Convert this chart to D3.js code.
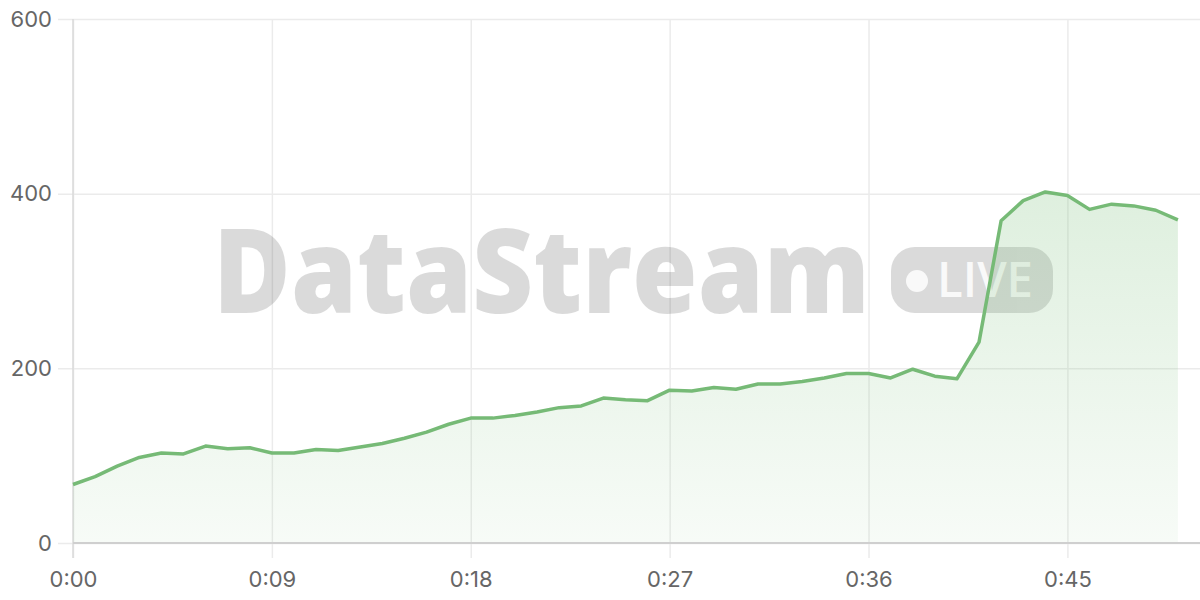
<!DOCTYPE html>
<html>
<head>
<meta charset="utf-8">
<script src="https://cdn.jsdelivr.net/npm/d3@7"></script>
<style>
  html, body { margin: 0; padding: 0; background: #fff; }
  svg { display: block; }
  .tick text { font-family: Inter, "Noto Sans", sans-serif; fill: #666; }
</style>
</head>
<body>
<script>
// minutes since start (one point per minute)
var minutes = d3.range(0, 51);
// viewers
var viewers = [
  67, 76, 88, 98, 103, 102, 111, 108, 109, 103,
  103, 107, 106, 110, 114, 120, 127, 136, 143, 143,
  146, 150, 155, 157, 166, 164, 163, 175, 174, 178,
  176, 182, 182, 185, 189, 194, 194, 189, 199, 191,
  188, 230, 369, 392, 402, 398, 382, 388, 386, 381,
  370
];
var xTicks = [0, 9, 18, 27, 36, 45];
var yTicks = [0, 200, 400, 600];

var width = 1200, height = 600;
var data = minutes.map(function(m, i) { return {m: m, v: viewers[i]}; });

var svg = d3.select("body").append("svg")
  .attr("width", width)
  .attr("height", height);

var x = d3.scaleLinear().domain([0, 51]).range([73, 1200]);
var y = d3.scaleLinear().domain([0, 600]).range([543, 19]);

// gradient for the area
var defs = svg.append("defs");
var grad = defs.append("linearGradient")
  .attr("id", "fillGrad")
  .attr("x1", 0).attr("y1", 0).attr("x2", 0).attr("y2", 1);
grad.append("stop").attr("offset", "0%").attr("stop-color", "#7cc07c").attr("stop-opacity", 0.25);
grad.append("stop").attr("offset", "100%").attr("stop-color", "#7cc07c").attr("stop-opacity", 0.06);

// horizontal grid + y labels
var yAxis = svg.append("g")
  .attr("transform", "translate(73,0)")
  .call(d3.axisLeft(y).tickValues(yTicks).tickSize(-(1200 - 73)).tickPadding(21));
yAxis.select(".domain").remove();
yAxis.selectAll(".tick line").attr("stroke", "#ebebeb").attr("stroke-width", 1.5)
  .attr("x1", 15 + (1200 - 73)).attr("x2", -15);
yAxis.selectAll(".tick text").attr("font-size", 22);

// vertical grid + x labels
var xAxis = svg.append("g")
  .attr("transform", "translate(0,543)")
  .call(d3.axisBottom(x).tickValues(xTicks).tickSize(-524)
    .tickFormat(function(d) { return "0:" + d3.format("02d")(d); }).tickPadding(28));
xAxis.select(".domain").remove();
xAxis.selectAll(".tick line").attr("stroke", "#ebebeb").attr("stroke-width", 1.5)
  .attr("y1", 15);
xAxis.selectAll(".tick text").attr("font-size", 22);

// left axis line a bit darker
svg.append("line")
  .attr("x1", x(0)).attr("x2", x(0))
  .attr("y1", y(600)).attr("y2", 558)
  .attr("stroke", "#dadada").attr("stroke-width", 1.5);

// watermark
var wm = svg.append("g").attr("opacity", 0.14);
wm.append("text")
  .attr("x", 213).attr("y", 313)
  .attr("font-family", "'Open Sans', Inter, sans-serif")
  .attr("font-weight", 800)
  .attr("font-size", 117)
  .attr("textLength", 657)
  .attr("lengthAdjust", "spacingAndGlyphs")
  .attr("fill", "#000")
  .text("DataStream");
wm.append("rect")
  .attr("x", 891).attr("y", 247).attr("width", 162).attr("height", 66)
  .attr("rx", 24).attr("fill", "#000");
var badge = svg.append("g").attr("opacity", 0.85);
badge.append("circle").attr("cx", 917).attr("cy", 281).attr("r", 11).attr("fill", "#fff");
badge.append("text")
  .attr("x", 937).attr("y", 297)
  .attr("font-family", "'Open Sans', Inter, sans-serif")
  .attr("font-weight", 600)
  .attr("font-size", 48)
  .attr("textLength", 96)
  .attr("lengthAdjust", "spacingAndGlyphs")
  .attr("fill", "#fff")
  .text("LIVE");

// area
var area = d3.area()
  .x(function(d) { return x(d.m); })
  .y0(y(0))
  .y1(function(d) { return y(d.v); });
svg.append("path")
  .datum(data)
  .attr("d", area)
  .attr("fill", "url(#fillGrad)");

// bottom axis line
svg.append("line")
  .attr("x1", x(0)).attr("x2", 1200)
  .attr("y1", y(0)).attr("y2", y(0))
  .attr("stroke", "#cfcfcf").attr("stroke-width", 2);

// line
var line = d3.line()
  .x(function(d) { return x(d.m); })
  .y(function(d) { return y(d.v); });
svg.append("path")
  .datum(data)
  .attr("d", line)
  .attr("fill", "none")
  .attr("stroke", "#76ba76")
  .attr("stroke-width", 3.5)
  .attr("stroke-linejoin", "round");
</script>
</body>
</html>
